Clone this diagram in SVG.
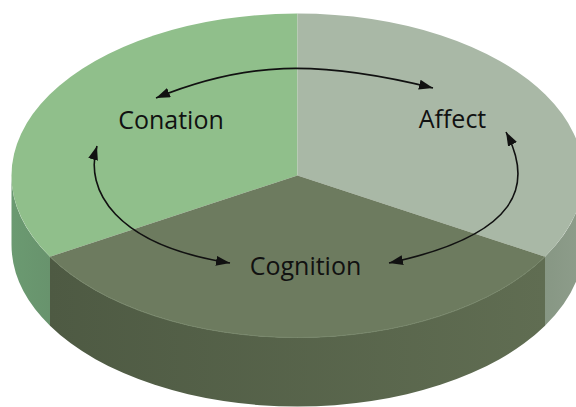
<svg xmlns="http://www.w3.org/2000/svg" width="576" height="407" viewBox="0 0 576 407">
  <style>
    .label { font-family: "Open Sans", "Noto Sans", "Liberation Sans", sans-serif; font-size: 25px; fill: #111111; text-anchor: middle; }
    .conn { fill: none; stroke: #111111; stroke-width: 1.6; marker-start: url(#ah); marker-end: url(#ah); }
  </style>
  <defs>
    <marker id="ah" viewBox="0 0 14 10" refX="14" refY="5" markerWidth="14" markerHeight="10" markerUnits="userSpaceOnUse" orient="auto-start-reverse">
      <path d="M0,0 L14,5 L0,10 Z" fill="#111111"/>
    </marker>
    <linearGradient id="wallMid" x1="50" y1="0" x2="545" y2="0" gradientUnits="userSpaceOnUse">
      <stop offset="0" stop-color="#4e5a43"/>
      <stop offset="1" stop-color="#606d52"/>
    </linearGradient>
    <linearGradient id="wallLeft" x1="11" y1="0" x2="50" y2="0" gradientUnits="userSpaceOnUse">
      <stop offset="0" stop-color="#6b9a71"/>
      <stop offset="1" stop-color="#68936d"/>
    </linearGradient>
    <linearGradient id="wallRight" x1="545" y1="0" x2="584" y2="0" gradientUnits="userSpaceOnUse">
      <stop offset="0" stop-color="#879784"/>
      <stop offset="1" stop-color="#8e9d8b"/>
    </linearGradient>
  </defs>

  <!-- side walls of the disc -->
  <g id="walls">
    <path d="M11.5,175.5 A286,162 0 0 0 50,256.7 L50,325.7 A286,162 0 0 1 11.5,244.5 Z" fill="url(#wallLeft)"/>
    <path d="M50,256.7 A286,162 0 0 0 545,256.7 L545,325.7 A286,162 0 0 1 50,325.7 Z" fill="url(#wallMid)"/>
    <path d="M545,256.7 A286,162 0 0 0 583.5,175.5 L583.5,244.5 A286,162 0 0 1 545,325.7 Z" fill="url(#wallRight)"/>
  </g>

  <g id="conation">
    <path d="M297.5,175.5 L297.5,13.5 A286,162 0 0 0 50,256.7 Z" fill="#90bf8b"/>
    <text class="label" x="171" y="129">Conation</text>
  </g>

  <g id="affect">
    <path d="M297.5,175.5 L297.5,13.5 A286,162 0 0 1 545,256.7 Z" fill="#a9b8a6"/>
    <text class="label" x="452.5" y="128">Affect</text>
  </g>

  <g id="cognition">
    <path d="M297.5,175.5 L50,256.7 A286,162 0 0 0 545,256.7 Z" fill="#6d7b5f"/>
    <path d="M50,256.7 A286,162 0 0 0 545,256.7" fill="none" stroke="#77866a" stroke-width="1"/>
    <text class="label" x="305.5" y="275">Cognition</text>
  </g>

  <!-- cycle arrows between the three parts -->
  <g id="connectors">
    <path class="conn" d="M156,98 C244,62 316,59 433,88"/>
    <path class="conn" d="M97,146 C84,190 115,245 230,263"/>
    <path class="conn" d="M506,132 C534,185 520,235 389,263"/>
  </g>
</svg>
